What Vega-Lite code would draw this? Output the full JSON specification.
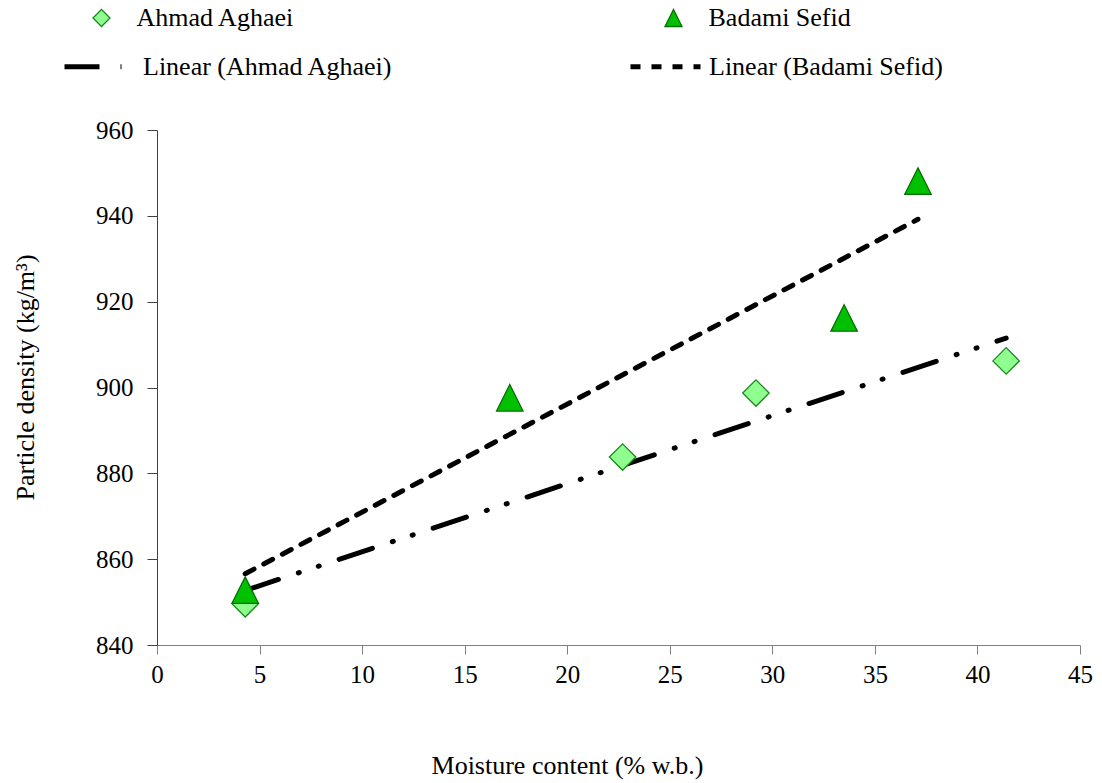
{
  "$schema": "https://vega.github.io/schema/vega-lite/v6.json",
  "width": 923,
  "height": 515,
  "autosize": {"type": "none"},
  "padding": {"left": 157, "top": 130, "right": 22, "bottom": 138},
  "background": "white",
  "config": {
    "view": {"stroke": null},
    "axisX": {"grid": false, "labelFont": "Liberation Serif", "titleFont": "Liberation Serif"},
    "axisY": {"grid": false, "labelFont": "Liberation Serif", "titleFont": "Liberation Serif"},
    "legend": {"padding": 0, "labelLimit": 0}
  },
  "datasets": {
    "points": [
      {"moisture": 4.3, "density": 849.6, "variety": "Ahmad Aghaei"},
      {"moisture": 22.7, "density": 883.8, "variety": "Ahmad Aghaei"},
      {"moisture": 29.2, "density": 898.7, "variety": "Ahmad Aghaei"},
      {"moisture": 41.4, "density": 906.2, "variety": "Ahmad Aghaei"},
      {"moisture": 4.3, "density": 852.8, "variety": "Badami Sefid"},
      {"moisture": 17.2, "density": 897.6, "variety": "Badami Sefid"},
      {"moisture": 33.5, "density": 916.2, "variety": "Badami Sefid"},
      {"moisture": 37.1, "density": 948.1, "variety": "Badami Sefid"}
    ],
    "trends": [
      {"moisture": 4.3, "density": 852.7, "trend": "Linear (Ahmad Aghaei)"},
      {"moisture": 41.4, "density": 911.5, "trend": "Linear (Ahmad Aghaei)"},
      {"moisture": 4.3, "density": 856.6, "trend": "Linear (Badami Sefid)"},
      {"moisture": 37.1, "density": 939.2, "trend": "Linear (Badami Sefid)"}
    ]
  },
  "layer": [
    {
      "data": {"name": "trends"},
      "mark": {"type": "line", "color": "black", "strokeWidth": 5, "strokeCap": "round"},
      "encoding": {
        "x": {
          "field": "moisture", "type": "quantitative",
          "scale": {"domain": [0, 45], "nice": false, "zero": false},
          "axis": {
            "values": [0, 5, 10, 15, 20, 25, 30, 35, 40, 45],
            "title": "Moisture content (% w.b.)",
            "labelFont": "Liberation Serif",
            "titleFont": "Liberation Serif",
            "titleFontWeight": "normal",
            "titleFontSize": 26,
            "titleAnchor": "start",
            "titleAlign": "center",
            "titleX": 410,
            "titleY": 120,
            "titleBaseline": "middle",
            "labelFontSize": 25,
            "labelPadding": 8,
            "tickSize": 9,
            "domainColor": "#808080",
            "tickColor": "#808080",
            "labelFlush": false
          }
        },
        "y": {
          "field": "density", "type": "quantitative",
          "scale": {"domain": [840, 960], "nice": false, "zero": false},
          "axis": {
            "values": [840, 860, 880, 900, 920, 940, 960],
            "title": "Particle density (kg/m³)",
            "labelFont": "Liberation Serif",
            "titleFont": "Liberation Serif",
            "titleFontWeight": "normal",
            "titleFontSize": 26,
            "titleAnchor": "start",
            "titleAlign": "center",
            "titleAngle": -90,
            "titleX": -132,
            "titleY": 247,
            "titleBaseline": "middle",
            "labelFontSize": 25,
            "labelPadding": 14,
            "tickSize": 10,
            "domainColor": "#404040",
            "tickColor": "#404040",
            "labelFlush": false
          }
        },
        "detail": {"field": "trend"},
        "strokeDash": {
          "field": "trend", "type": "nominal",
          "scale": {
            "domain": ["Linear (Ahmad Aghaei)", "Linear (Badami Sefid)"],
            "range": [[35, 21, 1, 20, 1, 21], [10, 11]]
          },
          "legend": {
            "title": null,
            "orient": "none",
            "legendX": -95,
            "legendY": -101,
            "columns": 2,
            "columnPadding": 227,
            "symbolType": "stroke",
            "symbolSize": 4900,
            "symbolStrokeWidth": 5,
            "symbolStrokeColor": "black",
            "labelOffset": 6,
            "labelFont": "Liberation Serif",
            "labelFontSize": 26,
            "labelLimit": 0
          }
        }
      }
    },
    {
      "data": {"name": "points"},
      "mark": {"type": "point", "filled": true, "opacity": 1, "size": 700, "strokeWidth": 1.3},
      "encoding": {
        "x": {"field": "moisture", "type": "quantitative"},
        "y": {"field": "density", "type": "quantitative"},
        "shape": {
          "field": "variety", "type": "nominal",
          "scale": {"domain": ["Ahmad Aghaei", "Badami Sefid"], "range": ["diamond", "M0,-1L1,1L-1,1Z"]},
          "legend": {
            "title": null,
            "orient": "none",
            "legendX": -68.5,
            "legendY": -125,
            "columns": 2,
            "columnPadding": 365,
            "symbolSize": 289,
            "symbolStrokeWidth": 1.3,
            "labelOffset": 22,
            "labelFont": "Liberation Serif",
            "labelFontSize": 26,
            "labelLimit": 0
          }
        },
        "fill": {
          "field": "variety", "type": "nominal",
          "scale": {"domain": ["Ahmad Aghaei", "Badami Sefid"], "range": ["#8FFF8F", "#00C000"]}
        },
        "stroke": {
          "field": "variety", "type": "nominal",
          "scale": {"domain": ["Ahmad Aghaei", "Badami Sefid"], "range": ["#1A8A1A", "#007000"]}
        }
      }
    }
  ]
}
